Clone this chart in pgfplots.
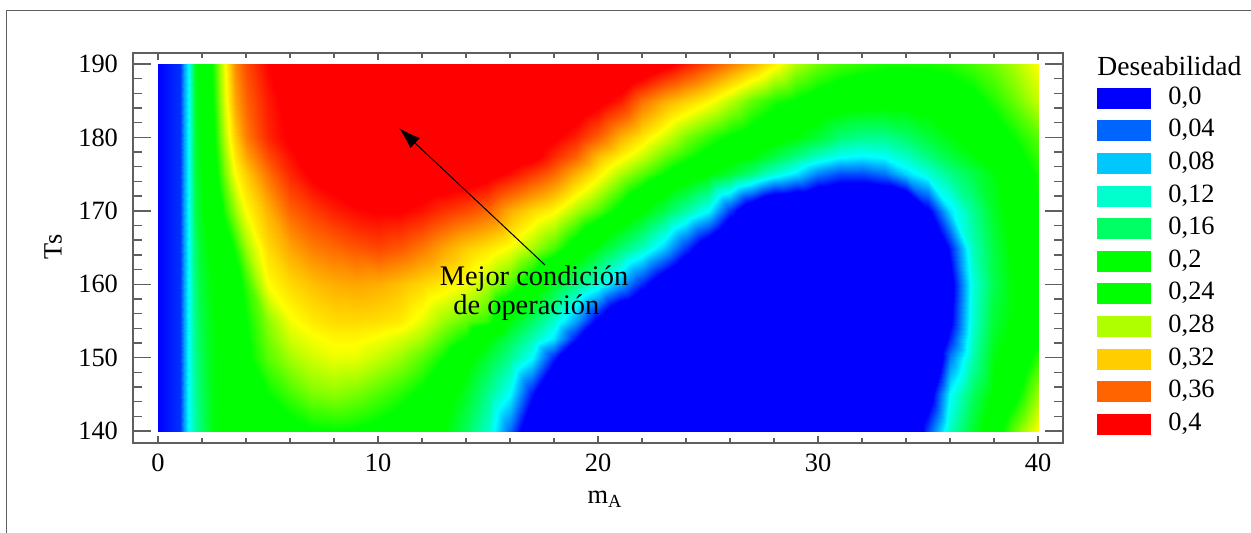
\documentclass[border=0pt]{standalone}
\usepackage{fontspec}
\setmainfont{Liberation Serif}
\usepackage{pgfplots}
\pgfplotsset{compat=1.18}
\usetikzlibrary{arrows.meta}

\definecolor{frame}{RGB}{95,95,95}
\definecolor{c00}{RGB}{0,0,255}
\definecolor{c04}{RGB}{0,100,255}
\definecolor{c08}{RGB}{0,200,255}
\definecolor{c12}{RGB}{0,255,205}
\definecolor{c16}{RGB}{0,255,100}
\definecolor{c20}{RGB}{0,255,0}
\definecolor{c24}{RGB}{0,255,0}
\definecolor{c28}{RGB}{175,255,0}
\definecolor{c32}{RGB}{255,205,0}
\definecolor{c36}{RGB}{255,100,0}
\definecolor{c40}{RGB}{255,0,0}

% colormap runs from -0.10 (0cm) to 0.45 (55cm): blue below 0, red above 0.4
\pgfplotsset{
  colormap={des}{
    rgb255(0cm)=(0,0,255); rgb255(10cm)=(0,0,255);
    rgb255(14cm)=(0,100,255); rgb255(18cm)=(0,200,255);
    rgb255(20cm)=(0,255,255); rgb255(22cm)=(0,255,205); rgb255(26cm)=(0,255,100);
    rgb255(30cm)=(0,255,0); rgb255(34cm)=(0,255,0); rgb255(38cm)=(175,255,0);
    rgb255(40cm)=(255,255,0); rgb255(42cm)=(255,205,0); rgb255(46cm)=(255,100,0);
    rgb255(50cm)=(255,0,0); rgb255(55cm)=(255,0,0)
  },
  base/.style={
    scale only axis, width=465pt, height=195pt,
    xmin=-1.136, xmax=41.136, ymin=138.37, ymax=191.5,
    tick align=inside, tick pos=both,
    axis line style={frame, line width=0.9pt},
    every tick/.style={frame, line width=0.7pt},
    /pgf/number format/assume math mode=true,
    tick label style={font=\fontsize{13.2}{15}\selectfont},
    label style={font=\fontsize{13.2}{15}\selectfont},
  },
}

\begin{document}
\begin{tikzpicture}
\path[use as bounding box] (0,0) rectangle (625.5pt,-266.5pt);

\begin{axis}[base,
  at={(66.5pt,-221.5pt)}, anchor=south west,
  xtick={0,10,20,30,40}, minor x tick num=4, ytick=\empty,
  major tick length=3.5pt, minor tick length=2.5pt,
  xticklabel style={yshift=-2pt},
  xlabel={m\textsubscript{A}},
  xlabel style={at={(axis description cs:0.5075,-0.145)},anchor=center},
  ylabel={Ts},
  ylabel style={at={(axis description cs:-0.086,0.503)},anchor=center,rotate=0},
  colormap name=des, point meta min=-0.1, point meta max=0.45,
  legend image code/.code={\fill[#1,draw=none] (0pt,-5.25pt) rectangle (27pt,5.25pt); \path (35.5pt,0pt);},
  legend style={at={(1.0366,0.92)},anchor=north west,draw=none,fill=none,
    inner sep=0pt,outer sep=0pt,row sep=2.3pt,
    font=\fontsize{13.2}{15}\selectfont,
    nodes={inner sep=0pt,text height=10pt,text depth=4pt}},
  legend cell align=left,
]
\addplot[surf, shader=interp, mesh/cols=46, point meta=explicit, forget plot] coordinates {
(0,140)[0](1,140)[.02](1.2,140)[.065](1.4,140)[.105](1.7,140)[.135](2,140)[.16](2.5,140)[.195](3,140)[.2](3.5,140)[.205]
(4,140)[.21](5,140)[.22](6,140)[.23](7,140)[.238](8,140)[.24](9,140)[.238](10,140)[.232](11,140)[.225](12,140)[.215](13,140)[.2]
(14,140)[.165](15,140)[.122](16,140)[.043](17,140)[-.05](18,140)[-.1](19,140)[-.1](20,140)[-.1](21,140)[-.1](22,140)[-.1](23,140)[-.1]
(24,140)[-.1](25,140)[-.1](26,140)[-.1](27,140)[-.1](28,140)[-.1](29,140)[-.1](30,140)[-.1](31,140)[-.1](32,140)[-.1](33,140)[-.1]
(34,140)[-.1](35,140)[.027](36,140)[.125](37,140)[.18](38,140)[.225](39,140)[.265](40,140)[.3]

(0,145)[0](1,145)[.02](1.2,145)[.065](1.4,145)[.105](1.7,145)[.14](2,145)[.165](2.5,145)[.195](3,145)[.2](3.5,145)[.205]
(4,145)[.215](5,145)[.24](6,145)[.255](7,145)[.268](8,145)[.272](9,145)[.267](10,145)[.258](11,145)[.248](12,145)[.235](13,145)[.215]
(14,145)[.185](15,145)[.145](16,145)[.1](17,145)[.008](18,145)[-.08](19,145)[-.1](20,145)[-.1](21,145)[-.1](22,145)[-.1](23,145)[-.1]
(24,145)[-.1](25,145)[-.1](26,145)[-.1](27,145)[-.1](28,145)[-.1](29,145)[-.1](30,145)[-.1](31,145)[-.1](32,145)[-.1](33,145)[-.1]
(34,145)[-.1](35,145)[-.03](36,145)[.1](37,145)[.16](38,145)[.205](39,145)[.235](40,145)[.275]

(0,150)[0](1,150)[.02](1.2,150)[.065](1.4,150)[.105](1.7,150)[.145](2,150)[.17](2.5,150)[.195](3,150)[.2](3.5,150)[.21]
(4,150)[.235](5,150)[.26](6,150)[.277](7,150)[.288](8,150)[.295](9,150)[.294](10,150)[.285](11,150)[.275](12,150)[.26](13,150)[.24]
(14,150)[.21](15,150)[.177](16,150)[.143](17,150)[.1](18,150)[.012](19,150)[-.08](20,150)[-.1](21,150)[-.1](22,150)[-.1](23,150)[-.1]
(24,150)[-.1](25,150)[-.1](26,150)[-.1](27,150)[-.1](28,150)[-.1](29,150)[-.1](30,150)[-.1](31,150)[-.1](32,150)[-.1](33,150)[-.1]
(34,150)[-.1](35,150)[-.1](36,150)[.05](37,150)[.13](38,150)[.195](39,150)[.215](40,150)[.25]

(0,152.5)[0](1,152.5)[.02](1.2,152.5)[.065](1.4,152.5)[.105](1.7,152.5)[.148](2,152.5)[.172](2.5,152.5)[.196](3,152.5)[.202](3.5,152.5)[.215]
(4,152.5)[.237](5,152.5)[.266](6,152.5)[.288](7,152.5)[.297](8,152.5)[.303](9,152.5)[.303](10,152.5)[.298](11,152.5)[.29](12,152.5)[.278](13,152.5)[.258]
(14,152.5)[.24](15,152.5)[.2](16,152.5)[.166](17,152.5)[.13](18,152.5)[.09](19,152.5)[.005](20,152.5)[-.08](21,152.5)[-.1](22,152.5)[-.1](23,152.5)[-.1]
(24,152.5)[-.1](25,152.5)[-.1](26,152.5)[-.1](27,152.5)[-.1](28,152.5)[-.1](29,152.5)[-.1](30,152.5)[-.1](31,152.5)[-.1](32,152.5)[-.1](33,152.5)[-.1]
(34,152.5)[-.1](35,152.5)[-.1](36,152.5)[.014](37,152.5)[.122](38,152.5)[.187](39,152.5)[.21](40,152.5)[.235]

(0,155)[0](1,155)[.02](1.2,155)[.065](1.4,155)[.105](1.7,155)[.15](2,155)[.175](2.5,155)[.197](3,155)[.205](3.5,155)[.22]
(4,155)[.24](5,155)[.272](6,155)[.297](7,155)[.308](8,155)[.314](9,155)[.315](10,155)[.313](11,155)[.308](12,155)[.294](13,155)[.275]
(14,155)[.262](15,155)[.25](16,155)[.195](17,155)[.16](18,155)[.12](19,155)[.065](20,155)[-.01](21,155)[-.08](22,155)[-.1](23,155)[-.1]
(24,155)[-.1](25,155)[-.1](26,155)[-.1](27,155)[-.1](28,155)[-.1](29,155)[-.1](30,155)[-.1](31,155)[-.1](32,155)[-.1](33,155)[-.1]
(34,155)[-.1](35,155)[-.1](36,155)[-.01](37,155)[.115](38,155)[.18](39,155)[.205](40,155)[.225]

(0,160)[0](1,160)[.02](1.2,160)[.065](1.4,160)[.105](1.7,160)[.155](2,160)[.18](2.5,160)[.2](3,160)[.21](3.5,160)[.225]
(4,160)[.25](5,160)[.3](6,160)[.315](7,160)[.325](8,160)[.332](9,160)[.335](10,160)[.332](11,160)[.325](12,160)[.316](13,160)[.308]
(14,160)[.298](15,160)[.28](16,160)[.258](17,160)[.225](18,160)[.186](19,160)[.15](20,160)[.115](21,160)[.07](22,160)[.015](23,160)[-.04]
(24,160)[-.09](25,160)[-.1](26,160)[-.1](27,160)[-.1](28,160)[-.1](29,160)[-.1](30,160)[-.1](31,160)[-.1](32,160)[-.1](33,160)[-.1]
(34,160)[-.1](35,160)[-.1](36,160)[-.02](37,160)[.11](38,160)[.17](39,160)[.205](40,160)[.225]

(0,165)[0](1,165)[.02](1.2,165)[.065](1.4,165)[.105](1.7,165)[.16](2,165)[.187](2.5,165)[.205](3,165)[.225](3.5,165)[.245]
(4,165)[.275](5,165)[.315](6,165)[.335](7,165)[.35](8,165)[.358](9,165)[.366](10,165)[.372](11,165)[.365](12,165)[.352](13,165)[.335]
(14,165)[.32](15,165)[.31](16,165)[.298](17,165)[.278](18,165)[.256](19,165)[.225](20,165)[.19](21,165)[.157](22,165)[.125](23,165)[.082]
(24,165)[.02](25,165)[-.04](26,165)[-.1](27,165)[-.1](28,165)[-.1](29,165)[-.1](30,165)[-.1](31,165)[-.1](32,165)[-.1](33,165)[-.1]
(34,165)[-.1](35,165)[-.1](36,165)[.01](37,165)[.125](38,165)[.175](39,165)[.21](40,165)[.23]

(0,170)[0](1,170)[.02](1.2,170)[.065](1.4,170)[.105](1.7,170)[.17](2,170)[.195](2.5,170)[.215](3,170)[.245](3.5,170)[.275]
(4,170)[.3](5,170)[.33](6,170)[.36](7,170)[.375](8,170)[.388](9,170)[.397](10,170)[.402](11,170)[.402](12,170)[.393](13,170)[.38]
(14,170)[.37](15,170)[.358](16,170)[.332](17,170)[.315](18,170)[.302](19,170)[.278](20,170)[.258](21,170)[.232](22,170)[.202](23,170)[.169]
(24,170)[.135](25,170)[.1](26,170)[.02](27,170)[-.05](28,170)[-.1](29,170)[-.1](30,170)[-.1](31,170)[-.1](32,170)[-.1](33,170)[-.1]
(34,170)[-.1](35,170)[-.01](36,170)[.09](37,170)[.14](38,170)[.185](39,170)[.215](40,170)[.24]

(0,175)[0](1,175)[.02](1.2,175)[.065](1.4,175)[.105](1.7,175)[.175](2,175)[.2](2.5,175)[.225](3,175)[.265](3.5,175)[.3]
(4,175)[.32](5,175)[.355](6,175)[.385](7,175)[.405](8,175)[.415](9,175)[.425](10,175)[.425](11,175)[.425](12,175)[.425](13,175)[.425]
(14,175)[.42](15,175)[.41](16,175)[.395](17,175)[.377](18,175)[.358](19,175)[.33](20,175)[.305](21,175)[.28](22,175)[.26](23,175)[.24]
(24,175)[.22](25,175)[.2](26,175)[.178](27,175)[.15](28,175)[.115](29,175)[.09](30,175)[.05](31,175)[.03](32,175)[.03](33,175)[.045]
(34,175)[.085](35,175)[.115](36,175)[.145](37,175)[.17](38,175)[.195](39,175)[.22](40,175)[.245]

(0,177.5)[0](1,177.5)[.02](1.2,177.5)[.065](1.4,177.5)[.105](1.7,177.5)[.178](2,177.5)[.202](2.5,177.5)[.23](3,177.5)[.272](3.5,177.5)[.31]
(4,177.5)[.335](5,177.5)[.37](6,177.5)[.395](7,177.5)[.41](8,177.5)[.42](9,177.5)[.43](10,177.5)[.43](11,177.5)[.43](12,177.5)[.43](13,177.5)[.43]
(14,177.5)[.43](15,177.5)[.425](16,177.5)[.42](17,177.5)[.41](18,177.5)[.385](19,177.5)[.362](20,177.5)[.327](21,177.5)[.306](22,177.5)[.287](23,177.5)[.265]
(24,177.5)[.248](25,177.5)[.232](26,177.5)[.218](27,177.5)[.2](28,177.5)[.175](29,177.5)[.15](30,177.5)[.125](31,177.5)[.105](32,177.5)[.098](33,177.5)[.105]
(34,177.5)[.125](35,177.5)[.15](36,177.5)[.175](37,177.5)[.195](38,177.5)[.215](39,177.5)[.233](40,177.5)[.252]

(0,180)[0](1,180)[.02](1.2,180)[.065](1.4,180)[.105](1.7,180)[.18](2,180)[.205](2.5,180)[.235](3,180)[.28](3.5,180)[.32]
(4,180)[.35](5,180)[.385](6,180)[.405](7,180)[.42](8,180)[.43](9,180)[.43](10,180)[.43](11,180)[.43](12,180)[.43](13,180)[.43]
(14,180)[.43](15,180)[.43](16,180)[.43](17,180)[.42](18,180)[.405](19,180)[.387](20,180)[.362](21,180)[.332](22,180)[.31](23,180)[.29]
(24,180)[.268](25,180)[.252](26,180)[.238](27,180)[.228](28,180)[.215](29,180)[.198](30,180)[.18](31,180)[.155](32,180)[.145](33,180)[.145]
(34,180)[.158](35,180)[.178](36,180)[.195](37,180)[.21](38,180)[.228](39,180)[.243](40,180)[.26]

(0,185)[0](1,185)[.02](1.2,185)[.065](1.4,185)[.105](1.7,185)[.185](2,185)[.208](2.5,185)[.24](3,185)[.29](3.5,185)[.335]
(4,185)[.36](5,185)[.39](6,185)[.41](7,185)[.425](8,185)[.44](9,185)[.44](10,185)[.44](11,185)[.44](12,185)[.44](13,185)[.44]
(14,185)[.44](15,185)[.44](16,185)[.44](17,185)[.44](18,185)[.44](19,185)[.425](20,185)[.41](21,185)[.39](22,185)[.355](23,185)[.333]
(24,185)[.318](25,185)[.303](26,185)[.283](27,185)[.262](28,185)[.247](29,185)[.238](30,185)[.228](31,185)[.22](32,185)[.215](33,185)[.212]
(34,185)[.21](35,185)[.212](36,185)[.22](37,185)[.232](38,185)[.247](39,185)[.265](40,185)[.285]

(0,190)[0](1,190)[.02](1.2,190)[.065](1.4,190)[.105](1.7,190)[.19](2,190)[.21](2.5,190)[.245](3,190)[.295](3.5,190)[.345]
(4,190)[.37](5,190)[.4](6,190)[.42](7,190)[.44](8,190)[.45](9,190)[.45](10,190)[.45](11,190)[.45](12,190)[.45](13,190)[.45]
(14,190)[.45](15,190)[.45](16,190)[.45](17,190)[.45](18,190)[.45](19,190)[.45](20,190)[.45](21,190)[.45](22,190)[.43](23,190)[.41]
(24,190)[.39](25,190)[.37](26,190)[.35](27,190)[.33](28,190)[.305](29,190)[.28](30,190)[.265](31,190)[.255](32,190)[.25](33,190)[.245]
(34,190)[.245](35,190)[.245](36,190)[.248](37,190)[.255](38,190)[.265](39,190)[.28](40,190)[.3]
};
\addlegendimage{fill=c00}\addlegendentry{0,0}
\addlegendimage{fill=c04}\addlegendentry{0,04}
\addlegendimage{fill=c08}\addlegendentry{0,08}
\addlegendimage{fill=c12}\addlegendentry{0,12}
\addlegendimage{fill=c16}\addlegendentry{0,16}
\addlegendimage{fill=c20}\addlegendentry{0,2}
\addlegendimage{fill=c24}\addlegendentry{0,24}
\addlegendimage{fill=c28}\addlegendentry{0,28}
\addlegendimage{fill=c32}\addlegendentry{0,32}
\addlegendimage{fill=c36}\addlegendentry{0,36}
\addlegendimage{fill=c40}\addlegendentry{0,4}
\end{axis}

% second axis only for the longer y ticks
\begin{axis}[base,
  at={(66.5pt,-221.5pt)}, anchor=south west,
  xtick=\empty,
  ytick={140,150,160,170,180,190}, minor y tick num=4,
  major tick length=9pt, minor tick length=4.5pt,
  yticklabel style={xshift=-4pt},
]
\end{axis}

\begin{scope}[x=0.5pt,y=-0.5pt]
\draw[frame,line width=0.6pt] (6.5,533) -- (6.5,10.5) -- (1251,10.5);
\draw[-{Latex[length=11pt,width=7pt]},line width=0.5pt] (545,265) -- (399,128);
\node[font=\fontsize{14.2}{16}\selectfont,anchor=base] at (534,286) {Mejor condición};
\node[font=\fontsize{14.2}{16}\selectfont,anchor=base west,inner sep=0pt] at (453,315) {de operación};
\node[font=\fontsize{13.8}{15}\selectfont,anchor=base west,inner sep=0pt] at (1097,76) {Deseabilidad};
\end{scope}
\end{tikzpicture}
\end{document}
